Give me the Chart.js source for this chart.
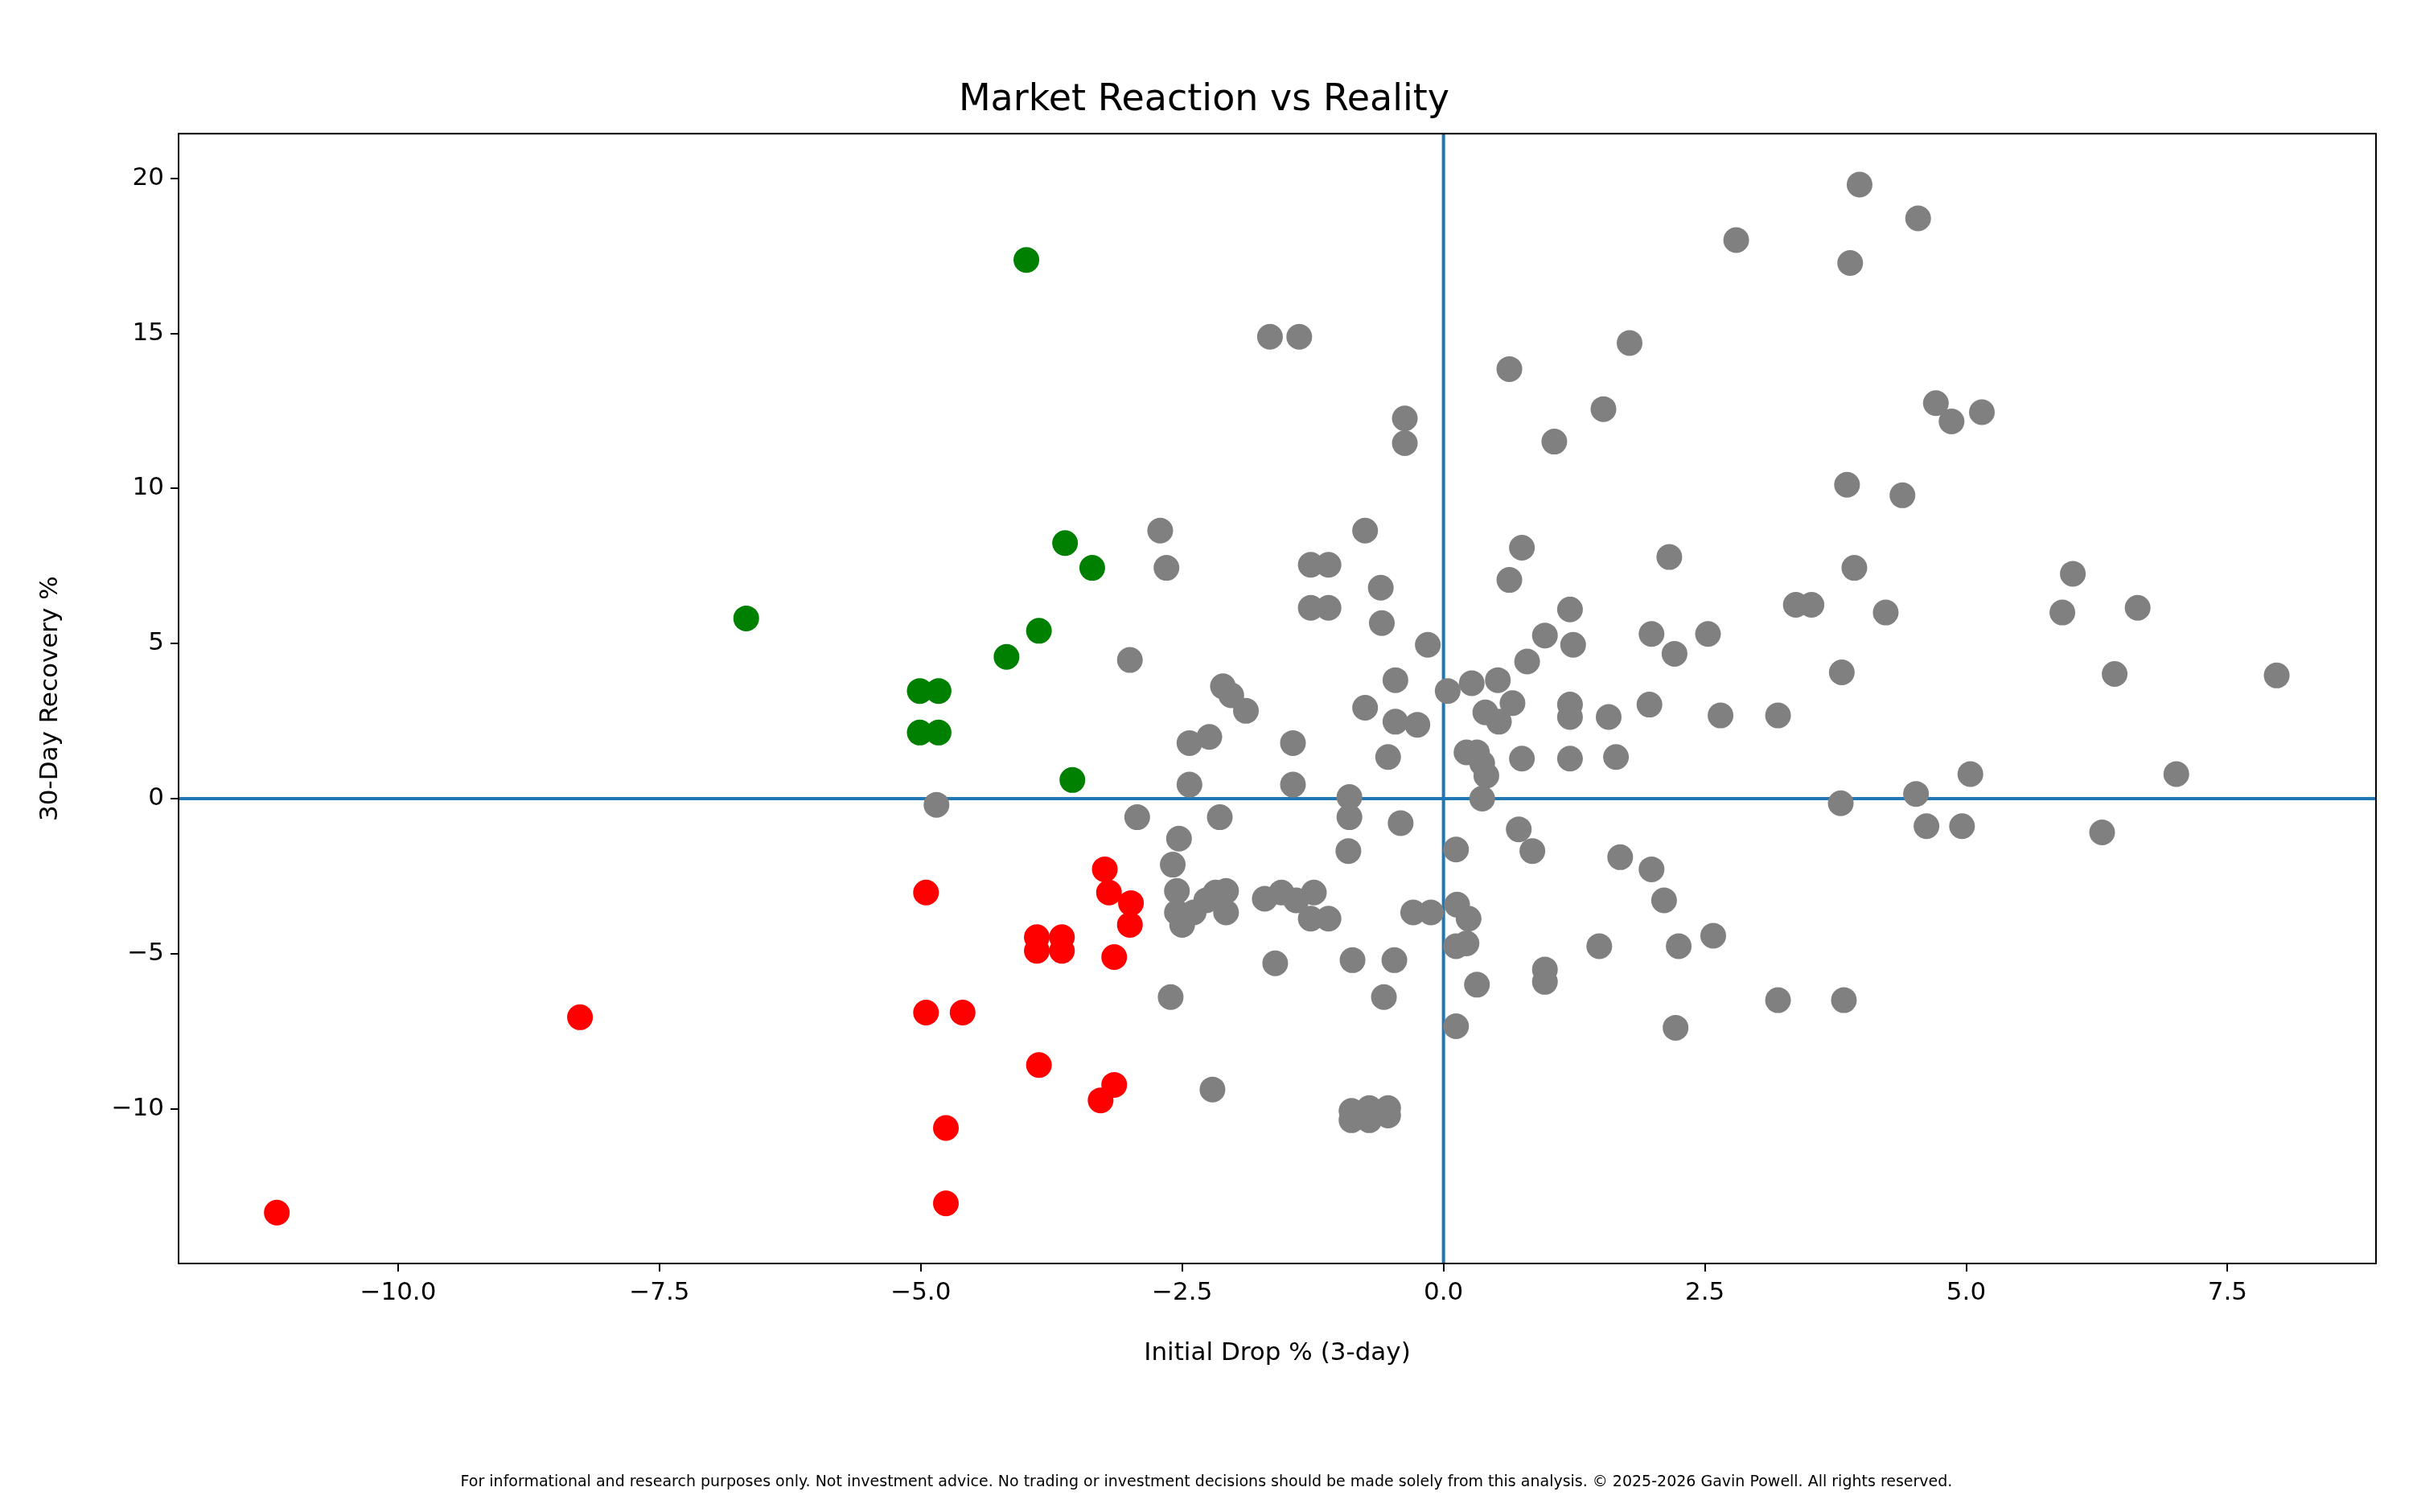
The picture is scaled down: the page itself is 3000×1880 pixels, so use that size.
<!DOCTYPE html>
<html>
<head>
<meta charset="utf-8">
<script src="https://cdn.jsdelivr.net/npm/chart.js@4.4.1/dist/chart.umd.min.js"></script>
<style>
  html, body { margin: 0; padding: 0; background: #fff; }
  #wrap { position: relative; width: 3000px; height: 1880px; }
  #footer { position: absolute; left: 0; width: 3000px; top: 1830px; text-align: center;
    font-family: "DejaVu Sans", sans-serif; font-size: 19px; color: #000; }
</style>
</head>
<body>
<div id="wrap">
  <canvas id="chart" width="3000" height="1880"></canvas>
  <div id="footer">For informational and research purposes only. Not investment advice. No trading or investment decisions should be made solely from this analysis. © 2025-2026 Gavin Powell. All rights reserved.</div>
</div>
<script>
// points: [initial drop %, 30-day recovery %]
const greenPoints = [
  [-6.67, 5.81], [-3.99, 17.37], [-3.62, 8.24], [-3.36, 7.44], [-3.87, 5.41], [-4.18, 4.57],
  [-5.01, 3.47], [-4.83, 3.47], [-5.01, 2.13], [-4.83, 2.13], [-3.55, 0.6]
];
const redPoints = [
  [-11.16, -13.35], [-8.26, -7.05], [-4.95, -3.03], [-4.95, -6.9], [-4.6, -6.9], [-4.76, -10.62],
  [-4.76, -13.05], [-3.89, -4.47], [-3.89, -4.91], [-3.65, -4.47], [-3.65, -4.91], [-3.87, -8.59],
  [-3.24, -2.28], [-3.2, -3.03], [-2.99, -3.37], [-3.0, -4.07], [-3.15, -5.11], [-3.15, -9.23],
  [-3.28, -9.73]
];
const grayPoints = [
  [-4.85, -0.2], [-2.71, 8.64], [-2.65, 7.44], [-3.0, 4.47], [-2.93, -0.6], [-2.53, -1.29],
  [-2.43, 1.79], [-2.24, 1.99], [-2.43, 0.45], [-2.11, 3.62], [-2.03, 3.33], [-1.89, 2.83],
  [-2.14, -0.6], [-2.59, -2.13], [-2.55, -2.98], [-2.55, -3.67], [-2.5, -4.07], [-2.39, -3.67],
  [-2.27, -3.28], [-2.18, -3.03], [-2.08, -2.98], [-2.08, -3.67], [-2.61, -6.4], [-2.21, -9.38],
  [-1.66, 14.89], [-1.38, 14.89], [-1.27, 7.54], [-1.1, 7.54], [-1.27, 6.15], [-1.1, 6.15],
  [-1.44, 1.79], [-1.44, 0.45], [-1.71, -3.23], [-1.55, -3.03], [-1.41, -3.28], [-1.24, -3.03],
  [-1.27, -3.87], [-1.1, -3.87], [-1.61, -5.31], [-0.75, 8.64], [-0.6, 6.8], [-0.59, 5.66],
  [-0.37, 12.26], [-0.37, 11.46], [-0.15, 4.96], [-0.46, 3.82], [-0.75, 2.93], [-0.46, 2.48],
  [-0.25, 2.38], [-0.53, 1.34], [-0.9, 0.05], [-0.9, -0.6], [-0.41, -0.79], [-0.91, -1.69],
  [-0.29, -3.67], [-0.12, -3.67], [-0.87, -5.21], [-0.47, -5.21], [-0.57, -6.4], [-0.88, -10.07],
  [-0.88, -10.37], [-0.71, -9.98], [-0.71, -10.37], [-0.53, -9.98], [-0.53, -10.22],
  [0.04, 3.47], [0.27, 3.72], [0.52, 3.82], [0.63, 13.85], [0.63, 7.05], [0.75, 8.09],
  [0.66, 3.08], [0.4, 2.78], [0.53, 2.48], [0.22, 1.49], [0.32, 1.49], [0.37, 1.14], [0.41, 0.74],
  [0.37, 0.0], [0.8, 4.42], [0.75, 1.29], [0.12, -1.64], [0.72, -0.99], [0.85, -1.69],
  [0.13, -3.42], [0.24, -3.87], [0.22, -4.67], [0.12, -4.76], [0.32, -6.0], [0.12, -7.34],
  [0.97, 5.26], [1.06, 11.51], [0.97, -5.51], [0.97, -5.91], [1.21, 6.1], [1.24, 4.96],
  [1.21, 3.03], [1.21, 2.63], [1.21, 1.29], [1.53, 12.56], [1.58, 2.63], [1.65, 1.34],
  [1.78, 14.69], [1.69, -1.89], [1.49, -4.76], [1.99, 5.31], [1.97, 3.03], [2.16, 7.79],
  [2.21, 4.67], [1.99, -2.28], [2.11, -3.28], [2.25, -4.76], [2.22, -7.39], [2.53, 5.31],
  [2.65, 2.68], [2.58, -4.42], [2.8, 18.01], [3.2, 2.68], [3.2, -6.5], [3.37, 6.25], [3.52, 6.25],
  [3.81, 4.07], [3.8, -0.15], [3.83, -6.5], [3.86, 10.12], [3.93, 7.44], [3.89, 17.27],
  [3.98, 19.8], [4.39, 9.78], [4.23, 6.0], [4.54, 18.71], [4.71, 12.75], [4.86, 12.16],
  [5.15, 12.46], [4.52, 0.15], [4.62, -0.89], [4.96, -0.89], [5.04, 0.79], [5.92, 6.0],
  [6.02, 7.25], [6.42, 4.02], [6.64, 6.15], [6.3, -1.09], [7.01, 0.79], [7.97, 3.97]
];
const xTicks = [-10, -7.5, -5, -2.5, 0, 2.5, 5, 7.5];
const yTicks = [-10, -5, 0, 5, 10, 15, 20];
const xRange = [-12.1, 8.92];
const yRange = [-14.99, 21.44];

function toXY(arr) { return arr.map(p => ({ x: p[0], y: p[1] })); }
function minus(s) { return String(s).replace('-', '\u2212'); }

const font = { family: 'DejaVu Sans', size: 31 };

const framePlugin = {
    id: 'frame',
    afterDatasetsDraw(chart) {
        const a = chart.chartArea, ctx = chart.ctx;
        ctx.save();
        ctx.strokeStyle = '#000';
        ctx.lineWidth = 2;
        ctx.strokeRect(a.left, a.top, a.right - a.left, a.bottom - a.top);
        ctx.restore();
    }
};

function pointSet(data, color) {
    return {
        type: 'scatter', data: toXY(data), backgroundColor: color, borderColor: color,
        pointRadius: 16, pointHoverRadius: 16, borderWidth: 0
    };
}

new Chart(document.getElementById('chart'), {
    type: 'scatter',
    data: {
        datasets: [
            pointSet(grayPoints, '#808080'),
            pointSet(greenPoints, '#008000'),
            pointSet(redPoints, '#ff0000'),
            { type: 'line', data: [{ x: 0, y: yRange[0] }, { x: 0, y: yRange[1] }], borderColor: '#1f77b4',
              borderWidth: 4, pointRadius: 0 },
            { type: 'line', data: [{ x: xRange[0], y: 0 }, { x: xRange[1], y: 0 }], borderColor: '#1f77b4',
              borderWidth: 4, pointRadius: 0 }
        ]
    },
    options: {
        responsive: false,
        animation: false,
        layout: { padding: { left: 40, right: 46, top: 0, bottom: 174 } },
        plugins: {
            legend: { display: false },
            tooltip: { enabled: false },
            title: {
                display: true, text: 'Market Reaction vs Reality', color: '#000',
                font: { family: 'DejaVu Sans', size: 46, weight: 'normal' },
                padding: { top: 97, bottom: 14 }
            }
        },
        scales: {
            x: {
                type: 'linear', min: xRange[0], max: xRange[1],
                afterBuildTicks: s => { s.ticks = xTicks.map(v => ({ value: v })); },
                afterFit: s => { s.height = 135; },
                ticks: { color: '#000', font: font, padding: 8, maxRotation: 0,
                    callback: v => minus(Number(v).toFixed(1)) },
                grid: { display: true, drawOnChartArea: false, tickLength: 10, color: '#000', lineWidth: 2 },
                border: { display: false },
                title: { display: true, text: 'Initial Drop % (3-day)', color: '#000', font: font }
            },
            y: {
                type: 'linear', min: yRange[0], max: yRange[1],
                afterBuildTicks: s => { s.ticks = yTicks.map(v => ({ value: v })); },
                afterFit: s => { s.width = 182; },
                ticks: { color: '#000', font: font, padding: 8, callback: v => minus(v) },
                grid: { display: true, drawOnChartArea: false, tickLength: 10, color: '#000', lineWidth: 2 },
                border: { display: false },
                title: { display: true, text: '30-Day Recovery %', color: '#000', font: font }
            }
        }
    },
    plugins: [framePlugin]
});
</script>
</body>
</html>
